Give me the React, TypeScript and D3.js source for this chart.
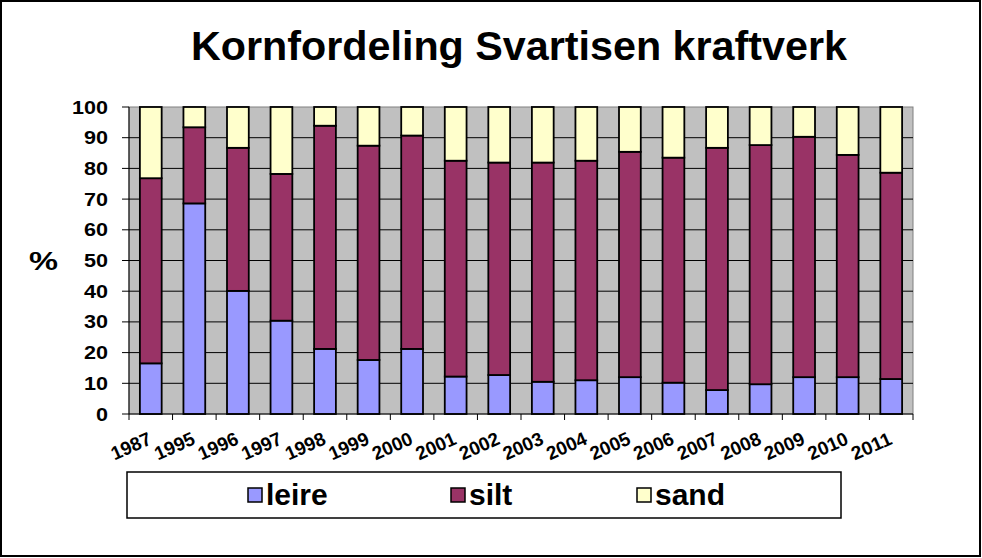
import React from "react";
import * as d3 from "d3";

const years = ["1987","1995","1996","1997","1998","1999","2000","2001","2002","2003","2004","2005","2006","2007","2008","2009","2010","2011"];
const leire = [16.5,68.6,40.1,30.4,21.2,17.6,21.2,12.2,12.7,10.5,11.0,12.0,10.2,7.8,9.7,12.0,12.0,11.4];
const silt = [60.3,24.8,46.6,47.8,72.7,69.8,69.5,70.3,69.2,71.4,71.5,73.4,73.3,78.9,77.9,78.3,72.4,67.2];
const sand = [23.2,6.6,13.3,21.8,6.1,12.6,9.3,17.5,18.1,18.1,17.5,14.6,16.5,13.3,12.4,9.7,15.6,21.4];
const seriesNames = ["leire","silt","sand"];
const seriesColors = ["#9999FF","#993366","#FFFFCC"];
const yTicks = [0,10,20,30,40,50,60,70,80,90,100];

const W = 982, H = 558;
const L = 129, R = 913, T = 107, B = 414;

export default function App() {
  const x = d3.scaleBand<string>().domain(years).range([L, R]).paddingInner(0.5).paddingOuter(0.25);
  const y = d3.scaleLinear().domain([0, 100]).range([B, T]);
  const step = x.step();
  const rows = years.map((yr, i) => ({ year: yr, leire: leire[i], silt: silt[i], sand: sand[i] }));
  const stack = d3.stack<any>().keys(seriesNames)(rows);
  const font = "'Liberation Sans', Arial, sans-serif";
  const legendX = [248, 451, 637];

  return (
    <svg width={W} height={H} style={{ position: "absolute", left: 0, top: 0, background: "#fff" }} fontFamily={font}>
      <rect x={1} y={1} width={W - 3} height={H - 3} fill="#fff" stroke="#000" strokeWidth={2} />
      <text x={191} y={60} fontSize={40} fontWeight="bold" textLength={656} lengthAdjust="spacingAndGlyphs">Kornfordeling Svartisen kraftverk</text>

      <rect x={L} y={T} width={R - L} height={B - T} fill="#C0C0C0" stroke="#808080" strokeWidth={1} />
      {yTicks.map(t => {
        const s = String(t);
        return (
          <g key={t}>
            {t > 0 && t < 100 && <line x1={L} x2={R} y1={y(t)} y2={y(t)} stroke="#000" strokeWidth={1} />}
            <line x1={L - 7} x2={L} y1={y(t)} y2={y(t)} stroke="#000" strokeWidth={1} />
            <text x={108} y={y(t) + 6.5} fontSize={18} fontWeight="bold" textAnchor="end"
              textLength={s.length * 12} lengthAdjust="spacingAndGlyphs">{s}</text>
          </g>
        );
      })}
      <text x={29} y={270} fontSize={25} fontWeight="bold" textLength={29} lengthAdjust="spacingAndGlyphs">%</text>

      {stack.map((s, si) => (
        <g key={si}>
          {s.map((d, i) => (
            <rect key={i} x={x(years[i])!} y={y(d[1])} width={x.bandwidth()} height={y(d[0]) - y(d[1])}
              fill={seriesColors[si]} stroke="#000" strokeWidth={1.8} />
          ))}
        </g>
      ))}

      <line x1={L} x2={L} y1={T} y2={B} stroke="#000" strokeWidth={1} />
      <line x1={L} x2={R} y1={B} y2={B} stroke="#000" strokeWidth={1} />
      {d3.range(years.length + 1).map(i => (
        <line key={i} x1={L + i * step} x2={L + i * step} y1={B} y2={B + 6} stroke="#000" strokeWidth={1} />
      ))}
      {years.map(yr => {
        const cx = x(yr)! + x.bandwidth() / 2;
        return (
          <text key={yr} transform={`translate(${cx + 2},${443.5}) rotate(-24)`} fontSize={19} fontWeight="bold" textAnchor="end"
            textLength={42} lengthAdjust="spacingAndGlyphs">{yr}</text>
        );
      })}

      <rect x={127} y={472} width={714} height={46} fill="#fff" stroke="#000" strokeWidth={1.5} />
      {seriesNames.map((n, i) => (
        <g key={n}>
          <rect x={legendX[i]} y={488} width={14} height={14} fill={seriesColors[i]} stroke="#000" strokeWidth={1.5} />
          <text x={legendX[i] + 18} y={505} fontSize={30} fontWeight="bold">{n}</text>
        </g>
      ))}
    </svg>
  );
}
